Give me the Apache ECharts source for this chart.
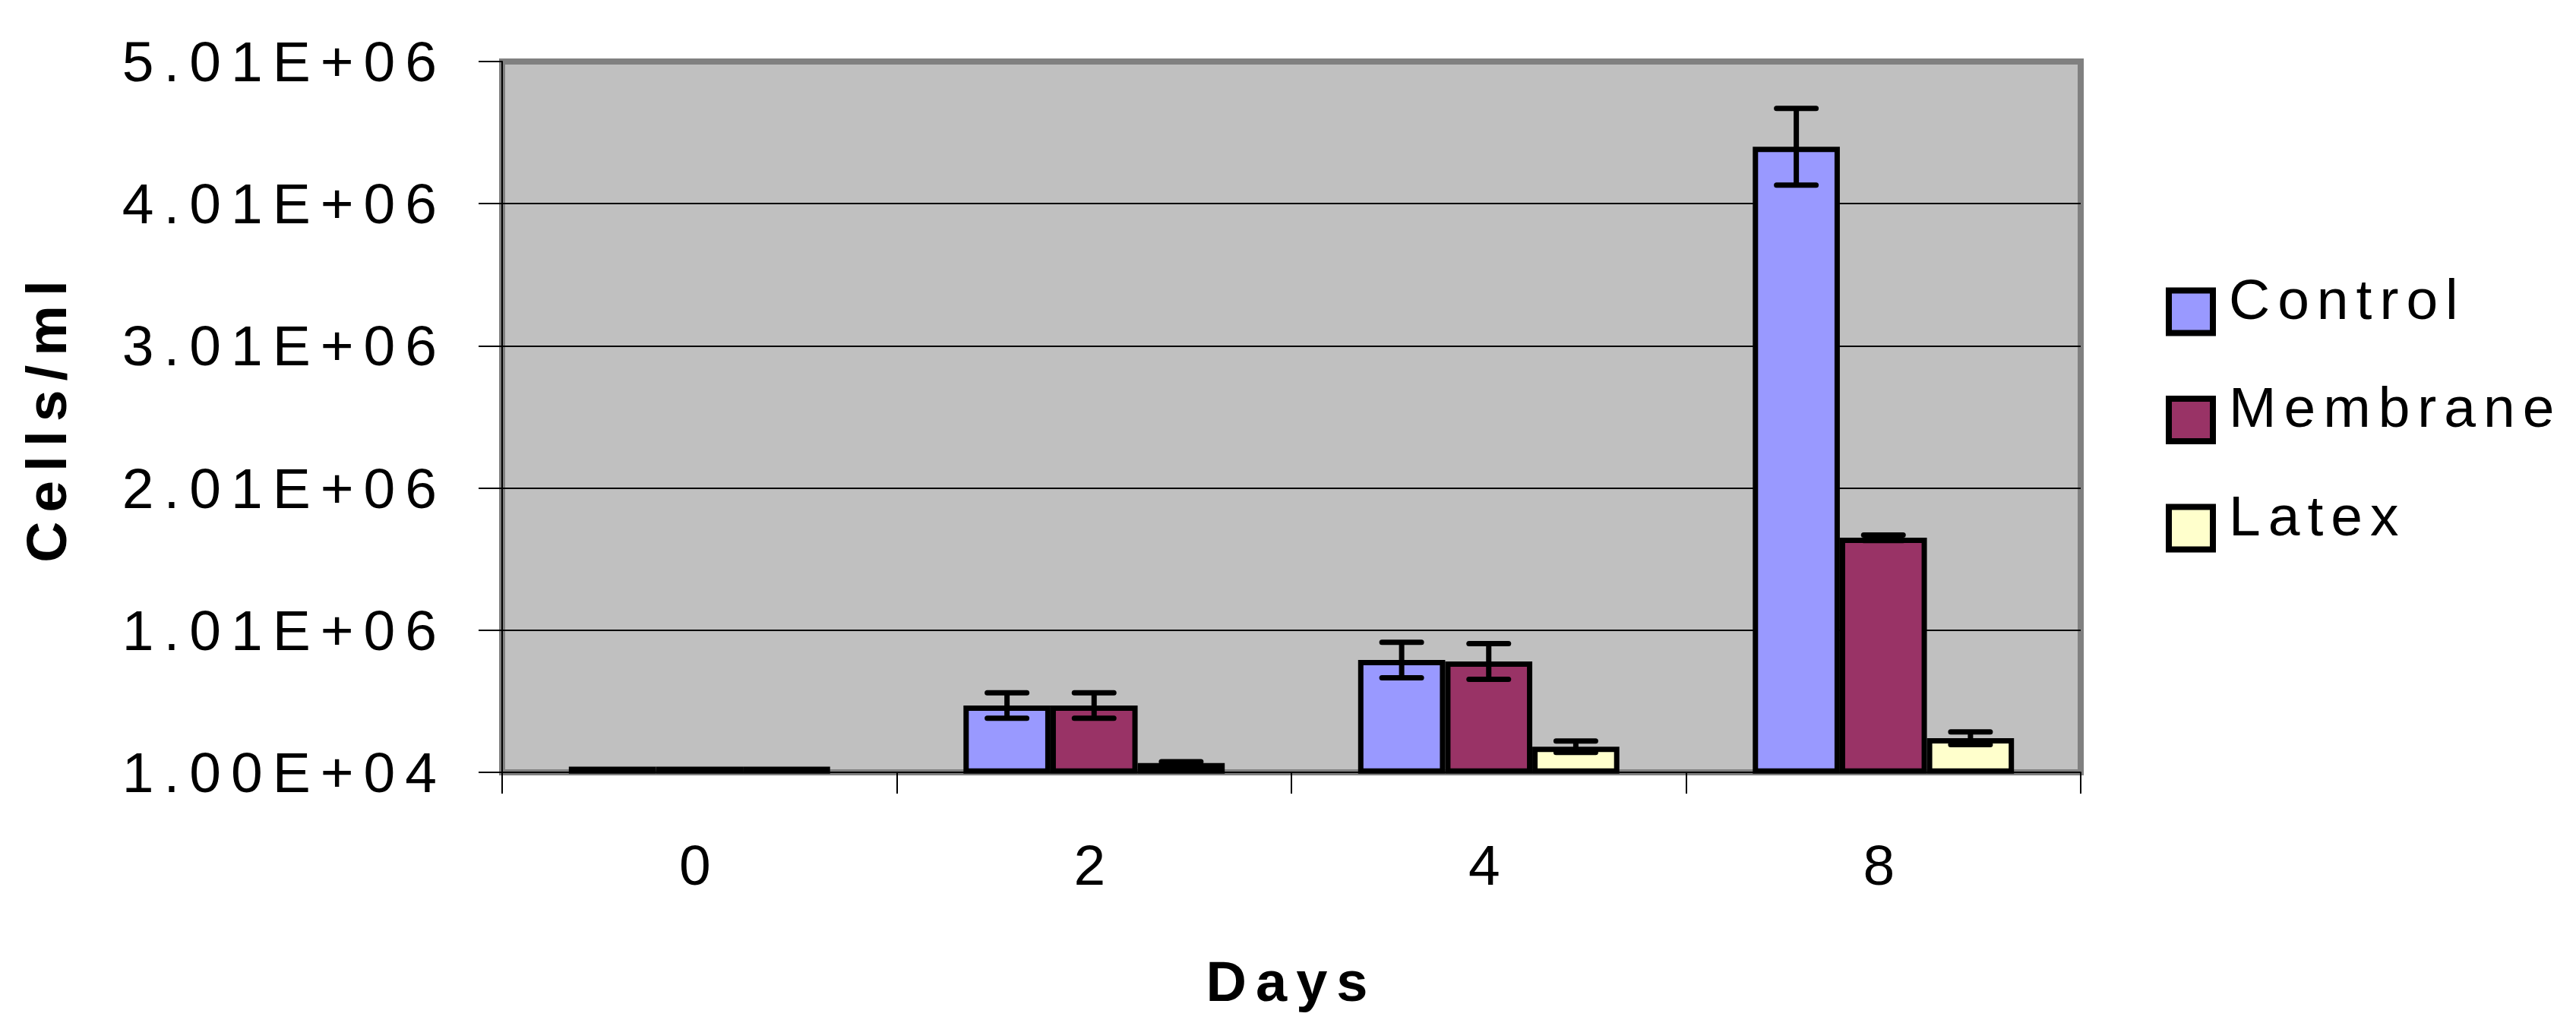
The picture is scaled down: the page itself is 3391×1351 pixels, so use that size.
<!DOCTYPE html>
<html>
<head>
<meta charset="utf-8">
<script src="https://cdn.jsdelivr.net/npm/echarts@6/dist/echarts.min.js"></script>
<style>
html, body { margin: 0; padding: 0; background: #ffffff; }
#chart { width: 3391px; height: 1351px; }
#chart text { letter-spacing: 12px; }
#chart text[text-anchor="end"] { letter-spacing: 13px; }
#chart text[text-anchor="start"], #chart text:not([text-anchor]) { letter-spacing: 10px; }
</style>
</head>
<body>
<div id="chart"></div>
<script>
// ---- data ----
const days = ['0', '2', '4', '8'];
const seriesNames = ['Control', 'Membrane', 'Latex'];
const controlValues  = [50000, 480000, 800000, 4410000];
const controlErrors  = [0, 90000, 125000, 270000];
const membraneValues = [50000, 480000, 790000, 1660000];
const membraneErrors = [0, 90000, 125000, 20000];
const latexValues    = [50000, 75000, 190000, 250000];
const latexErrors    = [0, 10000, 40000, 45000];
const yMin = 10000;
const yMax = 5010000;
const yStep = 1000000;

// ---- styling ----
const FONT = '"Liberation Sans", Arial, sans-serif';
const colors = ['#9999FF', '#993366', '#FFFFCC'];
const CAT_GAP = 0.338;
const CAP_HALF = 26;

function excelSci(v) {
  const s = Number(v).toExponential(2);          // e.g. 1.00e+4
  const m = s.split('e');
  const exp = parseInt(m[1], 10);
  const sign = exp < 0 ? '-' : '+';
  const e = Math.abs(exp);
  return m[0] + 'E' + sign + (e < 10 ? '0' + e : '' + e);
}

function barSeries(idx, values) {
  return {
    type: 'bar',
    name: seriesNames[idx],
    data: values,
    barGap: '0%',
    barCategoryGap: (CAT_GAP * 100) + '%',
    itemStyle: { color: colors[idx], borderColor: '#000000', borderWidth: 7 },
    z: 3,
    silent: true
  };
}

function errorSeries(idx, values, errors) {
  return {
    type: 'custom',
    name: seriesNames[idx] + ' error',
    data: values.map(function (v, i) { return [i, v, errors[i]]; }),
    encode: { x: 0, y: 1 },
    z: 6,
    silent: true,
    renderItem: function (params, api) {
      const ci = api.value(0);
      const v = api.value(1);
      const e = api.value(2);
      if (!e) { return null; }
      const band = api.size([1, 0])[0];
      const barW = band * (1 - CAT_GAP) / 3;
      const cx = api.coord([ci, v])[0] + (idx - 1) * barW;
      const yTop = api.coord([ci, v + e])[1];
      const yBot = api.coord([ci, v - e])[1];
      const capStyle = { stroke: '#000000', lineWidth: 7, lineCap: 'round' };
      return {
        type: 'group',
        children: [
          { type: 'line', shape: { x1: cx, y1: yTop, x2: cx, y2: yBot }, style: { stroke: '#000000', lineWidth: 7 } },
          { type: 'line', shape: { x1: cx - CAP_HALF, y1: yTop, x2: cx + CAP_HALF, y2: yTop }, style: capStyle },
          { type: 'line', shape: { x1: cx - CAP_HALF, y1: yBot, x2: cx + CAP_HALF, y2: yBot }, style: capStyle }
        ]
      };
    }
  };
}

const chart = echarts.init(document.getElementById('chart'), null, { renderer: 'svg' });

chart.setOption({
  animation: false,
  backgroundColor: '#ffffff',
  textStyle: { fontFamily: FONT, color: '#000000' },
  grid: {
    left: 661, top: 81, width: 2078, height: 936,
    show: true,
    backgroundColor: '#C0C0C0',
    borderColor: '#808080',
    borderWidth: 8,
    containLabel: false,
    outerBoundsMode: 'none'
  },
  legend: {
    orient: 'vertical',
    left: 2851,
    top: 356,
    padding: 0,
    itemGap: 56,
    itemWidth: 58,
    itemHeight: 56,
    itemTextGap: 21,
    icon: 'rect',
    data: seriesNames,
    itemStyle: { borderColor: '#000000', borderWidth: 8 },
    formatter: function (name) { return '{a|' + name + '}'; },
    textStyle: {
      fontFamily: FONT, fontSize: 75, color: '#000000',
      rich: { a: { fontFamily: FONT, fontSize: 75, color: '#000000', lineHeight: 109, verticalAlign: 'top', padding: [0, 0, 0, 16] } }
    },
    selectedMode: false
  },
  xAxis: {
    type: 'category',
    data: days,
    name: 'Days',
    nameLocation: 'middle',
    nameGap: 238,
    nameTextStyle: { fontFamily: FONT, fontSize: 74, fontWeight: 'bold', color: '#000000', lineHeight: 75 },
    axisLine: { show: true, lineStyle: { color: '#000000', width: 2 } },
    axisTick: { show: true, length: 28, lineStyle: { color: '#000000', width: 2 } },
    axisLabel: { fontFamily: FONT, fontSize: 75, color: '#000000', margin: 84, lineHeight: 75 },
    splitLine: { show: false }
  },
  yAxis: {
    type: 'value',
    min: yMin,
    max: yMax,
    interval: yStep,
    name: 'Cells/ml',
    nameLocation: 'middle',
    nameGap: 563,
    nameRotate: 90,
    nameTextStyle: { fontFamily: FONT, fontSize: 75, fontWeight: 'bold', color: '#000000', lineHeight: 75 },
    axisLine: { show: true, lineStyle: { color: '#000000', width: 2 } },
    axisTick: { show: true, length: 31, lineStyle: { color: '#000000', width: 2 } },
    axisLabel: {
      fontFamily: FONT, fontSize: 75, color: '#000000', margin: 73,
      padding: [0, 0, 22, 0],
      formatter: excelSci
    },
    splitLine: { show: true, showMaxLine: false, lineStyle: { color: '#000000', width: 2 } }
  },
  series: [
    barSeries(0, controlValues),
    barSeries(1, membraneValues),
    barSeries(2, latexValues),
    errorSeries(0, controlValues, controlErrors),
    errorSeries(1, membraneValues, membraneErrors),
    errorSeries(2, latexValues, latexErrors)
  ]
});
</script>
</body>
</html>
